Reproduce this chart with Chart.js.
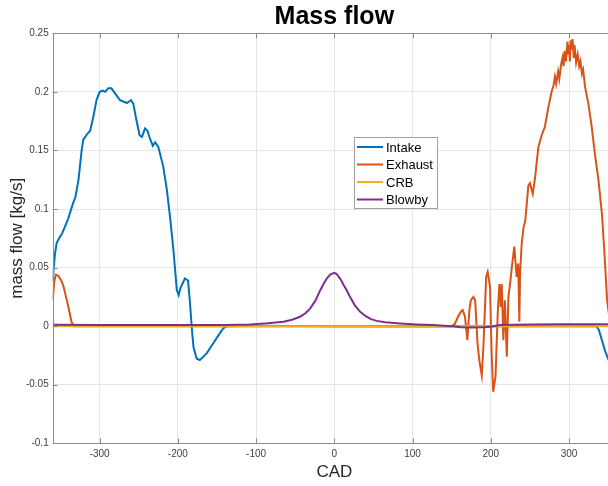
<!DOCTYPE html>
<html>
<head>
<meta charset="utf-8">
<script src="https://cdn.jsdelivr.net/npm/chart.js@4/dist/chart.umd.min.js"></script>
<style>
  html, body { margin: 0; padding: 0; background: #fff; overflow: hidden; }
</style>
</head>
<body>
<canvas id="myChart" width="616" height="486"></canvas>
<script>
// tick positions
const xTicks = [-300, -200, -100, 0, 100, 200, 300];
const yTicks = [-0.1, -0.05, 0, 0.05, 0.1, 0.15, 0.2, 0.25];

const seriesNames = ['Intake', 'Exhaust', 'CRB', 'Blowby'];
const seriesColors = ['#0072BD', '#D95319', '#EDB120', '#7E2F8E'];

// Intake
const intakeCad = [-360, -359, -357, -355, -351, -348, -345, -340, -334, -331, -327, -323, -321, -317, -312, -308, -304, -300, -296, -293, -289, -285, -280, -274, -265, -260, -257, -253, -249, -246, -242, -239, -235.6, -232, -229, -225, -218.6, -214, -210, -205.7, -201.4, -199, -197, -195, -191, -187, -184.5, -182, -180, -176, -172, -163, -155, -148, -142, -138, -100, 0, 100, 200, 300, 335, 338, 342, 346, 350, 355, 360];
const intakeFlow = [0.038, 0.048, 0.062, 0.071, 0.076, 0.079, 0.084, 0.092, 0.105, 0.11, 0.125, 0.15, 0.159, 0.163, 0.167, 0.179, 0.193, 0.2, 0.201, 0.2, 0.203, 0.203, 0.1985, 0.193, 0.1905, 0.193, 0.19, 0.176, 0.163, 0.1615, 0.1687, 0.167, 0.16, 0.154, 0.157, 0.153, 0.136, 0.116, 0.093, 0.065, 0.031, 0.0265, 0.032, 0.035, 0.0407, 0.039, 0.0196, -0.0034, -0.018, -0.0276, -0.029, -0.023, -0.0148, -0.0077, -0.002, 0, 0.0003, 0, 0, 0, 0, 0, -0.003, -0.012, -0.021, -0.028, -0.036, -0.045];

// Exhaust
const exhaustCad = [-360, -358, -356, -353, -349, -346, -343, -340, -336, -333, 150, 154, 158, 162, 164, 167, 170, 172.6, 174.4, 177.7, 180, 183, 185.5, 188.4, 190.5, 192.5, 194, 196, 199, 201, 203, 206, 209, 211, 212.7, 214, 216, 218, 220.4, 222.5, 224.6, 226.8, 230, 233, 235, 236.5, 237.4, 239.5, 242, 244, 246, 248, 250, 253.6, 256.6, 260.8, 265, 269, 273.6, 278, 280, 282, 283.5, 286, 287.5, 290, 292, 293, 295, 296, 298, 299, 300, 301, 302, 303, 304.5, 306, 307, 309, 311, 313, 314.5, 316.5, 318, 320.5, 324.7, 329, 333, 337.5, 342, 345, 348.6, 352, 356, 360];
const exhaustFlow = [0.022, 0.038, 0.044, 0.043, 0.039, 0.0335, 0.025, 0.0165, 0.0037, 0, 0, 0.002, 0.008, 0.0125, 0.0137, 0.008, -0.012, 0.0137, 0.022, 0.025, 0.022, -0.0148, -0.03, -0.042, -0.0176, 0.015, 0.042, 0.0463, 0.0335, -0.023, -0.056, -0.043, 0.0137, 0.036, 0.0165, 0.036, -0.012, 0.022, -0.026, 0.025, 0.036, 0.05, 0.068, 0.042, 0.0535, 0.0037, 0.045, 0.071, 0.085, 0.09, 0.105, 0.12, 0.122, 0.113, 0.127, 0.153, 0.163, 0.17, 0.187, 0.201, 0.205, 0.213, 0.207, 0.2175, 0.211, 0.224, 0.23, 0.222, 0.235, 0.226, 0.243, 0.232, 0.24, 0.226, 0.244, 0.236, 0.245, 0.229, 0.24, 0.225, 0.232, 0.222, 0.226, 0.2155, 0.219, 0.204, 0.19, 0.17, 0.147, 0.125, 0.096, 0.065, 0.022, 0.005, 0, 0];

// CRB
const crbCad = [-360, 0, 360];
const crbFlow = [0, 0, 0];

// Blowby
const blowbyCad = [-360, -300, -200, -140, -108, -85, -65, -54, -44, -37, -31, -24, -18, -13, -9.7, -5, 0, 3, 8, 12, 15.8, 20, 26, 33, 40, 47, 54, 65, 84, 105, 126, 145, 152, 161, 175, 190, 199, 205, 212, 230, 254, 290, 318, 340, 360];
const blowbyFlow = [0.0012, 0.0009, 0.0009, 0.001, 0.0014, 0.0024, 0.0037, 0.0055, 0.008, 0.011, 0.015, 0.022, 0.0307, 0.037, 0.0407, 0.0443, 0.0455, 0.0445, 0.04, 0.035, 0.0307, 0.025, 0.018, 0.0122, 0.0085, 0.006, 0.0045, 0.0033, 0.0023, 0.0015, 0.0009, 0.0002, 0, -0.001, -0.0012, -0.001, -0.0006, 0.0002, 0.0009, 0.0012, 0.0014, 0.0016, 0.0017, 0.0016, 0.0015];

const cads = [intakeCad, exhaustCad, crbCad, blowbyCad];
const flows = [intakeFlow, exhaustFlow, crbFlow, blowbyFlow];

const axisColor = '#8c8c8c';
const gridColor = '#e6e6e6';
const textColor = '#404040';

Chart.defaults.font.family = '"Liberation Sans", Arial, sans-serif';

// box around axes, inward ticks and legend inside the plot
const framePlugin = {
  id: 'frame',
  afterDraw(chart) {
    const ctx = chart.ctx;
    const a = chart.chartArea;
    const x = chart.scales.x;
    const y = chart.scales.y;
    ctx.save();
    ctx.strokeStyle = axisColor;
    ctx.lineWidth = 1;
    ctx.beginPath();
    ctx.rect(Math.round(a.left) + 0.5, Math.round(a.top) + 0.5, Math.round(a.right - a.left), Math.round(a.bottom - a.top));
    xTicks.forEach(v => {
      const px = Math.round(x.getPixelForValue(v)) + 0.5;
      ctx.moveTo(px, a.bottom); ctx.lineTo(px, a.bottom - 5);
      ctx.moveTo(px, a.top); ctx.lineTo(px, a.top + 5);
    });
    yTicks.forEach(v => {
      const py = Math.round(y.getPixelForValue(v)) + 0.5;
      ctx.moveTo(a.left, py); ctx.lineTo(a.left + 5, py);
    });
    ctx.stroke();

    // legend
    const lx = 354, ly = 137, lw = 83, lh = 71;
    ctx.fillStyle = '#fff';
    ctx.fillRect(lx, ly, lw, lh);
    ctx.strokeStyle = '#a0a0a0';
    ctx.strokeRect(lx + 0.5, ly + 0.5, lw, lh);
    ctx.font = '13px "Liberation Sans", Arial, sans-serif';
    ctx.textBaseline = 'middle';
    ctx.textAlign = 'left';
    chart.data.datasets.forEach((ds, i) => {
      const rowY = ly + 10 + i * 17.5;
      ctx.strokeStyle = ds.borderColor;
      ctx.lineWidth = 2;
      ctx.beginPath();
      ctx.moveTo(lx + 3, rowY);
      ctx.lineTo(lx + 29, rowY);
      ctx.stroke();
      ctx.fillStyle = '#000';
      ctx.fillText(ds.label, lx + 32, rowY + 1);
    });
    ctx.restore();
  }
};

const chart = new Chart(document.getElementById('myChart'), {
  type: 'line',
  data: {
    datasets: seriesNames.map((name, i) => ({
      label: name,
      data: cads[i].map((c, j) => ({ x: c, y: flows[i][j] })),
      borderColor: seriesColors[i],
      backgroundColor: seriesColors[i],
      borderWidth: 2,
      pointRadius: 0,
      tension: 0,
      order: seriesNames.length - i
    }))
  },
  options: {
    responsive: false,
    animation: false,
    layout: { padding: 0 },
    plugins: {
      legend: { display: false },
      tooltip: { enabled: false },
      title: {
        display: true,
        fullSize: false,
        text: 'Mass flow',
        color: '#000',
        font: { size: 25, weight: 'bold' },
        padding: { top: 2.5, bottom: 0.8 }
      }
    },
    scales: {
      x: {
        type: 'linear',
        min: -360,
        max: 360,
        afterBuildTicks: s => { s.ticks = xTicks.map(v => ({ value: v })); },
        afterFit: s => { s.height = 42.7; },
        grid: { color: gridColor, drawTicks: false },
        border: { display: false },
        ticks: { color: textColor, font: { size: 10 }, padding: 5, maxRotation: 0 },
        title: {
          display: true,
          text: 'CAD',
          color: '#262626',
          font: { size: 17 },
          padding: { top: 0, bottom: 3.8 }
        }
      },
      y: {
        type: 'linear',
        min: -0.1,
        max: 0.25,
        afterBuildTicks: s => { s.ticks = yTicks.map(v => ({ value: v })); },
        afterFit: s => { s.width = 52.7; },
        grid: { color: gridColor, drawTicks: false },
        border: { display: false },
        ticks: {
          color: textColor,
          font: { size: 10 },
          padding: 4,
          callback: v => String(Math.round(v * 100) / 100)
        },
        title: {
          display: true,
          text: 'mass flow [kg/s]',
          color: '#262626',
          font: { size: 17 },
          padding: { top: 6.8, bottom: 0 }
        }
      }
    }
  },
  plugins: [framePlugin]
});
</script>
</body>
</html>
